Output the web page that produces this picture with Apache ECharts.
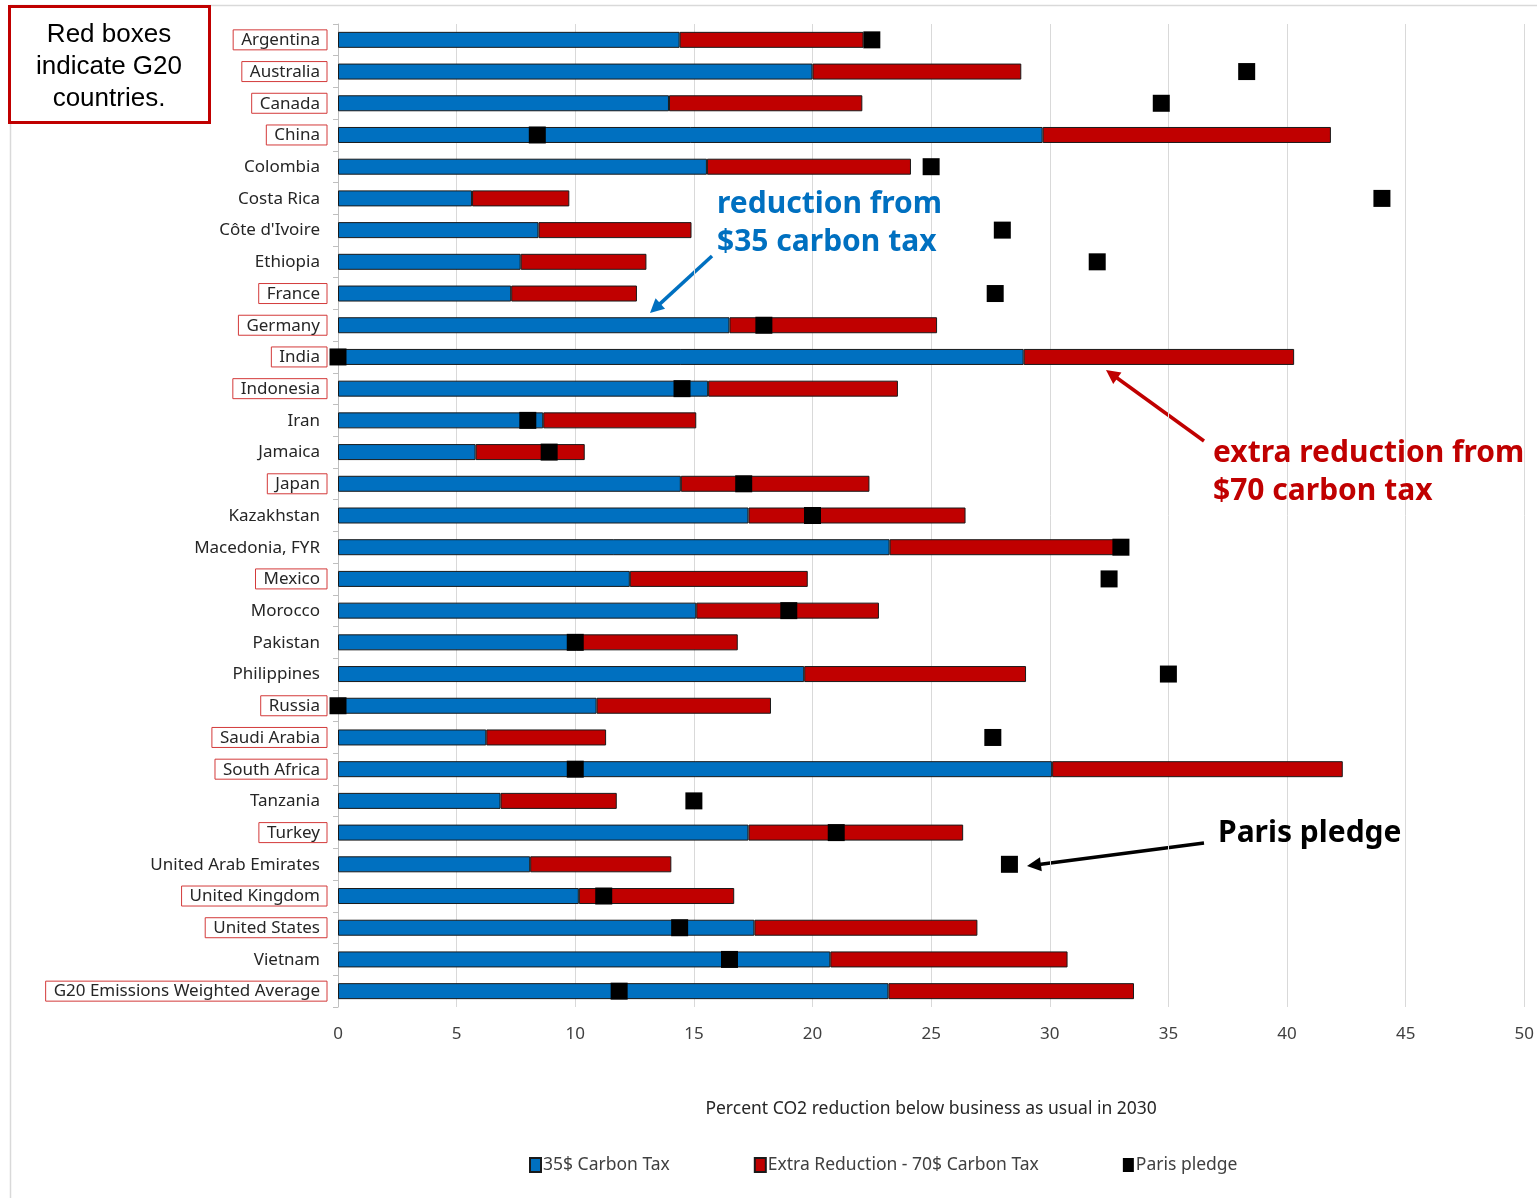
<!DOCTYPE html>
<html>
<head>
<meta charset="utf-8">
<script src="https://cdn.jsdelivr.net/npm/echarts@6/dist/echarts.min.js"></script>
<style>
html,body{margin:0;padding:0;background:#fff;overflow:hidden;}
#chart{width:1537px;height:1198px;}
</style>
</head>
<body>
<div id="chart"></div>
<script>
const categories = ["Argentina","Australia","Canada","China","Colombia","Costa Rica","Côte d'Ivoire","Ethiopia","France","Germany","India","Indonesia","Iran","Jamaica","Japan","Kazakhstan","Macedonia, FYR","Mexico","Morocco","Pakistan","Philippines","Russia","Saudi Arabia","South Africa","Tanzania","Turkey","United Arab Emirates","United Kingdom","United States","Vietnam","G20 Emissions Weighted Average"];
const g20Labels = ["Argentina","Australia","Canada","China","France","Germany","India","Indonesia","Japan","Mexico","Russia","Saudi Arabia","South Africa","Turkey","United Kingdom","United States","G20 Emissions Weighted Average"];
const tax35 = [14.4,20.0,13.95,29.7,15.55,5.65,8.45,7.7,7.3,16.5,28.9,15.6,8.65,5.8,14.45,17.3,23.25,12.3,15.1,10.05,19.65,10.9,6.25,30.1,6.85,17.3,8.1,10.15,17.55,20.75,23.2];
const extra70 = [7.75,8.8,8.15,12.15,8.6,4.1,6.45,5.3,5.3,8.75,11.4,8.0,6.45,4.6,7.95,9.15,9.45,7.5,7.7,6.8,9.35,7.35,5.05,12.25,4.9,9.05,5.95,6.55,9.4,10.0,10.35];
const parisPledge = [22.5,38.3,34.7,8.4,25.0,44.0,28.0,32.0,27.7,17.95,0,14.5,8.0,8.9,17.1,20.0,33.0,32.5,19.0,10.0,35.0,0,27.6,10.0,15.0,21.0,28.3,11.2,14.4,16.5,11.85];
const xTicks = [0,5,10,15,20,25,30,35,40,45,50];
const seriesNames = ["35$ Carbon Tax","Extra Reduction - 70$ Carbon Tax","Paris pledge"];
const axisTitle = "Percent CO2 reduction below business as usual in 2030";

const FONT = '"Noto Sans", "Open Sans", sans-serif';

function arrow(x1, y1, x2, y2, color, w, hl, hw) {
  const dx = x2 - x1, dy = y2 - y1;
  const len = Math.sqrt(dx*dx + dy*dy);
  const ux = dx/len, uy = dy/len;
  const bx = x2 - ux*hl, by = y2 - uy*hl;
  const px = -uy, py = ux;
  return {
    type: 'group',
    children: [
      {type:'line', shape:{x1:x1,y1:y1,x2:bx+ux*2,y2:by+uy*2}, style:{stroke:color,lineWidth:w}},
      {type:'polygon', shape:{points:[[x2,y2],[bx+px*hw,by+py*hw],[bx-px*hw,by-py*hw]]}, style:{fill:color}}
    ]
  };
}

const chart = echarts.init(document.getElementById('chart'), null, {renderer:'canvas', width:1537, height:1198});
const option = {
  animation: false,
  backgroundColor: '#fff',
  textStyle: {fontFamily: FONT},
  grid: {left: 338, width: 1191, top: 24, height: 983, containLabel: false},
  legend: {
    left: 524, top: 1151,
    itemGap: 84, itemWidth: 11, itemHeight: 14,
    icon: 'rect',
    textStyle: {fontFamily: FONT, fontSize: 17.5, color: '#404040', padding:[0,0,0,-3]},
    data: seriesNames
  },
  xAxis: {
    type: 'value', min: 0, max: 50, interval: 5,
    axisLine: {show:false}, axisTick:{show:false},
    splitLine: {show:true, lineStyle:{color:'#d9d9d9', width:1}},
    axisLabel: {fontFamily: FONT, fontSize: 17, color: '#404040', margin: 19,
      formatter: function(v){ return xTicks.indexOf(v) >= 0 ? String(v) : ''; }},
    name: axisTitle, nameLocation: 'middle', nameGap: 93,
    nameTextStyle: {fontFamily: FONT, fontSize: 17.5, color: '#262626'}
  },
  yAxis: {
    type: 'category', data: categories, inverse: true,
    axisLine: {show:true, lineStyle:{color:'#bfbfbf', width:1}},
    axisTick: {show:true, inside:false, length:5, lineStyle:{color:'#bfbfbf'}},
    splitLine: {show:false},
    axisLabel: {
      margin: 11,
      formatter: function(v){ return g20Labels.indexOf(v) >= 0 ? '{g|' + v + '}' : '{n|' + v + '}'; },
      rich: {
        g: {fontFamily: FONT, fontSize: 17, color:'#262626', borderColor:'#d33a3a', borderWidth:1, padding:[2,7,1,8], lineHeight: 18},
        n: {fontFamily: FONT, fontSize: 17, color:'#262626', padding:[2,7,1,8], lineHeight: 18}
      }
    }
  },
  series: [
    {name: seriesNames[0], type:'bar', stack:'t', data: tax35, barWidth: 16,
     itemStyle:{color:'#0070c0', borderColor:'#1a1a1a', borderWidth:1}},
    {name: seriesNames[1], type:'bar', stack:'t', data: extra70, barWidth: 16,
     itemStyle:{color:'#c00000', borderColor:'#1a1a1a', borderWidth:1}},
    {name: seriesNames[2], type:'scatter', data: parisPledge, symbol:'rect', symbolSize: 17, clip: false, z: 5,
     itemStyle:{color:'#000000', opacity: 1}}
  ],
  graphic: [
    {type:'rect', z: -10, silent:true, shape:{x:10.5, y:5.5, width:1560, height:1220}, style:{fill:'none', stroke:'#d9d9d9', lineWidth:1.5}},
    {type:'rect', z: 10, shape:{x:9.5, y:6.5, width:200, height:116}, style:{fill:'#fff', stroke:'#c00000', lineWidth:3}},
    {type:'text', z: 11, style:{text:'Red boxes\nindicate G20\ncountries.', x:109, y:19, align:'center', verticalAlign:'top', font:'26px "Liberation Sans", Arial, sans-serif', lineHeight:32, fill:'#000'}},
    {type:'text', z: 11, style:{text:'reduction from\n$35 carbon tax', x:717, y:185, verticalAlign:'top', font:'bold 30px ' + FONT, lineHeight:38, fill:'#0070c0'}},
    {type:'text', z: 11, style:{text:'extra reduction from\n$70 carbon tax', x:1213, y:434, verticalAlign:'top', font:'bold 30px ' + FONT, lineHeight:38, fill:'#c00000'}},
    {type:'text', z: 11, style:{text:'Paris pledge', x:1218, y:814, verticalAlign:'top', font:'bold 30px ' + FONT, lineHeight:38, fill:'#000'}},
    Object.assign(arrow(712, 256, 650, 313, '#0070c0', 3.5, 14, 7), {z: 11}),
    Object.assign(arrow(1204, 441, 1106, 370, '#c00000', 3.5, 14, 7), {z: 11}),
    Object.assign(arrow(1204, 843, 1027, 866, '#000000', 3.5, 14, 7), {z: 11})
  ]
};
chart.setOption(option);
</script>
</body>
</html>
